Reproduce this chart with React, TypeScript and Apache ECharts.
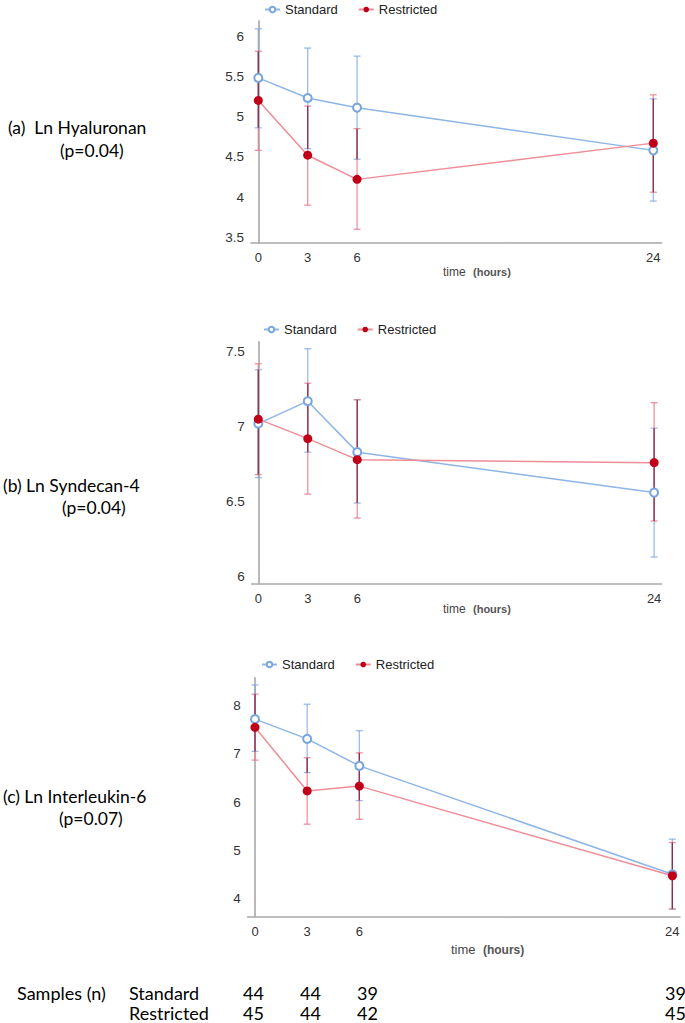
import React, { useEffect, useRef } from "react";
import * as echarts from "echarts";

const hours = [0, 3, 6, 24];

const hyaStdMean = [5.48, 5.23, 5.11, 4.58];
const hyaStdLow = [4.86, 4.6, 4.47, 3.95];
const hyaStdHigh = [6.09, 5.85, 5.75, 5.22];
const hyaResMean = [5.2, 4.52, 4.22, 4.67];
const hyaResLow = [4.58, 3.9, 3.6, 4.06];
const hyaResHigh = [5.81, 5.13, 4.85, 5.27];

const synStdMean = [7.02, 7.17, 6.83, 6.56];
const synStdLow = [6.66, 6.83, 6.49, 6.13];
const synStdHigh = [7.38, 7.52, 7.18, 6.99];
const synResMean = [7.05, 6.92, 6.78, 6.76];
const synResLow = [6.68, 6.55, 6.39, 6.37];
const synResHigh = [7.42, 7.29, 7.18, 7.16];

const il6StdMean = [7.72, 7.31, 6.75, 4.5];
const il6StdLow = [7.05, 6.61, 6.03, 3.78];
const il6StdHigh = [8.43, 8.03, 7.48, 5.23];
const il6ResMean = [7.55, 6.23, 6.33, 4.47];
const il6ResLow = [6.87, 5.54, 5.64, 3.78];
const il6ResHigh = [8.24, 6.92, 7.02, 5.16];

const hyaTicks = [3.5, 4, 4.5, 5, 5.5, 6];
const synTicks = [6, 6.5, 7, 7.5];
const il6Ticks = [4, 5, 6, 7, 8];

const panelTitles = ["(a)  Ln Hyaluronan", "(b) Ln Syndecan-4", "(c) Ln Interleukin-6"];
const panelPValues = ["(p=0.04)", "(p=0.04)", "(p=0.07)"];
const groupNames = ["Standard", "Restricted"];
const stdSamples = [44, 44, 39, 39];
const resSamples = [45, 44, 42, 45];

const BLUE_LINE = "#8db5e8";
const BLUE_MARK = "#78a5de";
const BLUE_ERR = "rgba(120,165,225,0.75)";
const RED_LINE = "#ef8d97";
const RED_MARK = "#c00018";
const RED_ERR = "rgba(232,120,135,0.8)";
const OVERLAP = "rgba(125,35,70,0.85)";

const AX = "Liberation Sans, Arial, sans-serif";
const CAL = "Lato, sans-serif";

type Panel = {
  grid: { left: number; top: number; right: number; height: number };
  xMin: number;
  xMax: number;
  yMin: number;
  yMax: number;
  ticks: number[];
  std: [number[], number[], number[]];
  res: [number[], number[], number[]];
  legend: { left: number; top: number };
};

const panels: Panel[] = [
  {
    grid: { left: 251, top: 20.7, right: 23.3, height: 222.3 },
    xMin: -0.444, xMax: 24.51, yMin: 3.43, yMax: 6.19, ticks: hyaTicks,
    std: [hyaStdMean, hyaStdLow, hyaStdHigh],
    res: [hyaResMean, hyaResLow, hyaResHigh],
    legend: { left: 259, top: -2 },
  },
  {
    grid: { left: 251.7, top: 341.7, right: 23.3, height: 242.3 },
    xMin: -0.4, xMax: 24.46, yMin: 5.95, yMax: 7.567, ticks: synTicks,
    std: [synStdMean, synStdLow, synStdHigh],
    res: [synResMean, synResLow, synResHigh],
    legend: { left: 258, top: 318 },
  },
  {
    grid: { left: 247.7, top: 677.7, right: 5, height: 239 },
    xMin: -0.42, xMax: 24.44, yMin: 3.62, yMax: 8.58, ticks: il6Ticks,
    std: [il6StdMean, il6StdLow, il6StdHigh],
    res: [il6ResMean, il6ResLow, il6ResHigh],
    legend: { left: 256, top: 653 },
  },
];

function errRender(color: string, cap: number) {
  return (params: any, api: any) => {
    const x = api.value(0);
    const lo = api.coord([x, api.value(1)]);
    const hi = api.coord([x, api.value(2)]);
    const style = { stroke: color, lineWidth: 1.3 };
    const children: any[] = [
      { type: "line", shape: { x1: lo[0], y1: lo[1], x2: hi[0], y2: hi[1] }, style },
    ];
    if (cap > 0) {
      children.push({ type: "line", shape: { x1: lo[0] - cap, y1: lo[1], x2: lo[0] + cap, y2: lo[1] }, style });
      children.push({ type: "line", shape: { x1: hi[0] - cap, y1: hi[1], x2: hi[0] + cap, y2: hi[1] }, style });
    }
    return { type: "group", children };
  };
}

export default function App() {
  const ref = useRef<HTMLDivElement>(null);
  useEffect(() => {
    if (!ref.current) return;
    const chart = echarts.init(ref.current, null, { renderer: "svg" });
    const grids: any[] = [];
    const xAxes: any[] = [];
    const yAxes: any[] = [];
    const legends: any[] = [];
    const series: any[] = [];
    panels.forEach((p, i) => {
      grids.push({ left: p.grid.left, top: p.grid.top, right: p.grid.right, height: p.grid.height, containLabel: false });
      xAxes.push({
        type: "value", gridIndex: i, min: p.xMin, max: p.xMax,
        splitLine: { show: false },
        axisLine: { show: true, lineStyle: { color: "#a8a8a8", width: 1.6 } },
        axisTick: { show: false },
        axisLabel: { customValues: hours, color: "#333", fontSize: 13, fontFamily: AX, margin: 8 },
      });
      yAxes.push({
        type: "value", gridIndex: i, min: p.yMin, max: p.yMax,
        splitLine: { show: false },
        axisLine: { show: true, lineStyle: { color: "#a8a8a8", width: 1.6 } },
        axisTick: { show: false },
        axisLabel: { customValues: p.ticks, color: "#333", fontSize: 13.5, fontFamily: AX, margin: 7 },
      });
      legends.push({
        data: groupNames, left: p.legend.left, top: p.legend.top,
        itemWidth: 15, itemHeight: 7, itemGap: 20,
        textStyle: { color: "#222", fontSize: 13, fontFamily: AX },
      });
      const stdErr = hours.map((h, k) => [h, p.std[1][k], p.std[2][k]]);
      const resErr = hours.map((h, k) => [h, p.res[1][k], p.res[2][k]]);
      const overlap = hours
        .map((h, k) => [h, Math.max(p.std[1][k], p.res[1][k]), Math.min(p.std[2][k], p.res[2][k])])
        .filter((d) => d[2] > d[1]);
      series.push({
        type: "custom", name: "stdErr" + i, xAxisIndex: i, yAxisIndex: i,
        renderItem: errRender(BLUE_ERR, 3.5), data: stdErr, encode: { x: 0, y: [1, 2] }, z: 2, silent: true,
      });
      series.push({
        type: "custom", name: "resErr" + i, xAxisIndex: i, yAxisIndex: i,
        renderItem: errRender(RED_ERR, 3.5), data: resErr, encode: { x: 0, y: [1, 2] }, z: 2, silent: true,
      });
      series.push({
        type: "custom", name: "overlap" + i, xAxisIndex: i, yAxisIndex: i,
        renderItem: errRender(OVERLAP, 0), data: overlap, encode: { x: 0, y: [1, 2] }, z: 3, silent: true,
      });
      series.push({
        type: "line", name: "Standard", xAxisIndex: i, yAxisIndex: i,
        data: hours.map((h, k) => [h, p.std[0][k]]),
        symbol: "emptyCircle", symbolSize: 8,
        lineStyle: { color: BLUE_LINE, width: 1.5 },
        itemStyle: { color: BLUE_MARK, borderColor: BLUE_MARK, borderWidth: 1.3 },
        z: 4,
      });
      series.push({
        type: "line", name: "Restricted", xAxisIndex: i, yAxisIndex: i,
        data: hours.map((h, k) => [h, p.res[0][k]]),
        symbol: "circle", symbolSize: 9,
        lineStyle: { color: RED_LINE, width: 1.5 },
        itemStyle: { color: RED_MARK },
        z: 5,
      });
    });

    const titleY = [[129, 152], [487, 509], [798, 820]];
    const titleX = [[8, 60], [3, 62], [3, 59]];
    const timeLabel = [{ x: 443, y: 274, s: 12 }, { x: 443, y: 611, s: 12 }, { x: 451, y: 951, s: 13 }];
    const graphics: any[] = [];
    panelTitles.forEach((t, i) => {
      graphics.push({ type: "text", left: titleX[i][0], top: titleY[i][0] - 11, style: { text: t, font: `17.5px ${CAL}`, fill: "#000" } });
      graphics.push({ type: "text", left: titleX[i][1], top: titleY[i][1] - 11, style: { text: panelPValues[i], font: `17.5px ${CAL}`, fill: "#000" } });
      const tl = timeLabel[i];
      graphics.push({
        type: "text", left: tl.x, top: tl.y - 8,
        style: {
          text: "{a|time} {b|(hours)}",
          rich: {
            a: { fontSize: tl.s, fontFamily: AX, fill: "#444", color: "#444" },
            b: { fontSize: tl.s - 1, fontFamily: AX, fontWeight: "bold", fill: "#555", color: "#555", padding: [0, 0, 0, 4] },
          },
        },
      });
    });
    const F = `18px ${CAL}`;
    graphics.push({ type: "text", left: 17, top: 984, style: { text: "Samples (n)", font: F, fill: "#000" } });
    graphics.push({ type: "text", left: 129, top: 984, style: { text: groupNames[0], font: F, fill: "#000" } });
    graphics.push({ type: "text", left: 129, top: 1004, style: { text: groupNames[1], font: F, fill: "#000" } });
    const nx = [243, 300, 357, 665];
    stdSamples.forEach((n, k) => {
      graphics.push({ type: "text", left: nx[k], top: 984, style: { text: String(n), font: F, fill: "#000" } });
    });
    resSamples.forEach((n, k) => {
      graphics.push({ type: "text", left: nx[k], top: 1004, style: { text: String(n), font: F, fill: "#000" } });
    });

    chart.setOption({
      animation: false,
      backgroundColor: "#fff",
      grid: grids,
      xAxis: xAxes,
      yAxis: yAxes,
      legend: legends,
      series,
      graphic: graphics,
    });
    return () => chart.dispose();
  }, []);
  return <div ref={ref} style={{ position: "absolute", left: 0, top: 0, width: 685, height: 1023 }} />;
}
